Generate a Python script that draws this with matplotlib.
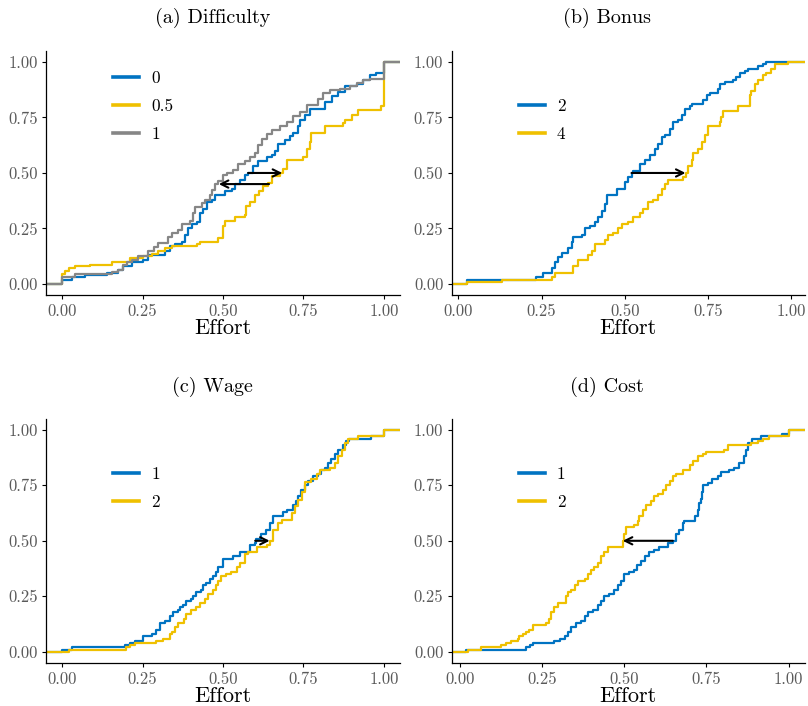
"""Effort ECDFs by treatment arm: four panels, median shifts marked with arrows."""
import matplotlib

matplotlib.use("Agg")
import matplotlib.pyplot as plt

plt.rcParams.update({
    "font.family": "serif",
    "font.serif": ["cmr10", "DejaVu Serif"],
    "mathtext.fontset": "cm",
    "axes.formatter.use_mathtext": True,
    "axes.unicode_minus": False,
})

BLUE = "#0073C2"
YELLOW = "#EFC000"
GREY = "#868686"
TICKS = [0.0, 0.25, 0.5, 0.75, 1.0]

# --- (a) Difficulty: ECDF breakpoints (effort, cumulative share) ---
DIFF0_X = [0.0, 0.03, 0.071, 0.139, 0.175, 0.19, 0.216, 0.252, 0.268, 0.32, 0.335, 0.351, 0.372, 0.382,
           0.392, 0.403, 0.418, 0.429, 0.439, 0.449, 0.465, 0.475, 0.506, 0.527, 0.537, 0.553, 0.568,
           0.579, 0.594, 0.61, 0.636, 0.651, 0.661, 0.672, 0.693, 0.708, 0.718, 0.734, 0.739, 0.755,
           0.77, 0.817, 0.838, 0.858, 0.879, 0.915, 0.936, 0.957, 0.975, 1.0]
DIFF0_Y = [0.02, 0.03, 0.04, 0.05, 0.065, 0.08, 0.10, 0.11, 0.13, 0.15, 0.17, 0.18, 0.19, 0.22,
           0.25, 0.27, 0.28, 0.32, 0.34, 0.37, 0.38, 0.40, 0.42, 0.43, 0.45, 0.47, 0.49,
           0.50, 0.53, 0.555, 0.57, 0.58, 0.60, 0.63, 0.65, 0.665, 0.68, 0.71, 0.74, 0.76,
           0.79, 0.82, 0.845, 0.865, 0.89, 0.90, 0.92, 0.94, 0.95, 1.0]
DIFF05_X = [0.0, 0.009, 0.02, 0.04, 0.087, 0.154, 0.211, 0.252, 0.279, 0.299, 0.32, 0.341, 0.418, 0.429,
            0.485, 0.501, 0.506, 0.537, 0.568, 0.573, 0.584, 0.599, 0.612, 0.625, 0.641, 0.651, 0.677,
            0.687, 0.70, 0.749, 0.76, 0.77, 0.775, 0.817, 0.874, 0.88, 0.90, 0.92, 0.99, 1.0]
DIFF05_Y = [0.045, 0.06, 0.07, 0.08, 0.085, 0.10, 0.115, 0.125, 0.135, 0.15, 0.16, 0.17, 0.18, 0.19,
            0.205, 0.26, 0.285, 0.30, 0.31, 0.35, 0.37, 0.40, 0.42, 0.44, 0.455, 0.485, 0.50,
            0.52, 0.56, 0.57, 0.61, 0.64, 0.68, 0.71, 0.725, 0.74, 0.76, 0.785, 0.80, 1.0]
DIFF1_X = [0.0, 0.04, 0.154, 0.175, 0.19, 0.201, 0.216, 0.237, 0.268, 0.284, 0.299, 0.33, 0.341, 0.361,
           0.372, 0.398, 0.408, 0.413, 0.434, 0.444, 0.46, 0.465, 0.475, 0.485, 0.501, 0.511, 0.532,
           0.548, 0.568, 0.584, 0.599, 0.61, 0.62, 0.636, 0.651, 0.677, 0.698, 0.718, 0.739, 0.76,
           0.796, 0.812, 0.832, 0.863, 0.894, 0.915, 0.936, 0.957, 1.0]
DIFF1_Y = [0.03, 0.045, 0.055, 0.065, 0.085, 0.10, 0.11, 0.125, 0.15, 0.165, 0.185, 0.21, 0.23, 0.245,
           0.27, 0.285, 0.32, 0.345, 0.365, 0.38, 0.40, 0.425, 0.45, 0.465, 0.49, 0.50, 0.515,
           0.54, 0.555, 0.57, 0.59, 0.625, 0.655, 0.675, 0.695, 0.71, 0.73, 0.755, 0.775, 0.805,
           0.835, 0.86, 0.875, 0.88, 0.89, 0.905, 0.92, 0.925, 1.0]

# --- (b) Bonus ---
BONUS2_X = [0.025, 0.233, 0.255, 0.28, 0.29, 0.30, 0.31, 0.33, 0.34, 0.345, 0.37, 0.38, 0.395, 0.41,
            0.42, 0.43, 0.44, 0.445, 0.475, 0.50, 0.51, 0.52, 0.525, 0.545, 0.56, 0.575, 0.59, 0.60,
            0.61, 0.62, 0.635, 0.645, 0.66, 0.67, 0.68, 0.695, 0.70, 0.735, 0.745, 0.755, 0.78,
            0.785, 0.80, 0.825, 0.835, 0.845, 0.86, 0.87, 0.90, 0.915, 0.925]
BONUS2_Y = [0.02, 0.03, 0.05, 0.07, 0.10, 0.12, 0.14, 0.16, 0.19, 0.21, 0.22, 0.25, 0.26, 0.28,
            0.30, 0.33, 0.36, 0.40, 0.43, 0.46, 0.48, 0.50, 0.51, 0.54, 0.56, 0.58, 0.61, 0.63,
            0.66, 0.67, 0.70, 0.73, 0.74, 0.76, 0.79, 0.80, 0.81, 0.83, 0.85, 0.86, 0.88,
            0.90, 0.91, 0.92, 0.93, 0.95, 0.96, 0.97, 0.98, 0.99, 1.00]
BONUS4_X = [0.025, 0.13, 0.28, 0.29, 0.345, 0.36, 0.388, 0.40, 0.41, 0.44, 0.45, 0.465, 0.48, 0.49,
            0.51, 0.525, 0.545, 0.555, 0.57, 0.585, 0.60, 0.61, 0.62, 0.63, 0.675, 0.682, 0.69,
            0.70, 0.705, 0.72, 0.73, 0.74, 0.75, 0.785, 0.79, 0.795, 0.84, 0.875, 0.88, 0.89,
            0.90, 0.915, 0.925, 0.94, 0.95, 0.99]
BONUS4_Y = [0.01, 0.02, 0.03, 0.05, 0.08, 0.11, 0.13, 0.15, 0.18, 0.20, 0.22, 0.23, 0.25, 0.27,
            0.28, 0.30, 0.32, 0.34, 0.37, 0.38, 0.40, 0.43, 0.45, 0.47, 0.48, 0.50, 0.53,
            0.56, 0.59, 0.61, 0.64, 0.67, 0.71, 0.73, 0.75, 0.78, 0.80, 0.85, 0.87, 0.90,
            0.92, 0.94, 0.95, 0.97, 0.99, 1.0]

# --- (c) Wage ---
WAGE1_X = [0.0, 0.03, 0.195, 0.21, 0.226, 0.25, 0.28, 0.293, 0.303, 0.32, 0.334, 0.345, 0.36, 0.365,
           0.375, 0.386, 0.40, 0.406, 0.417, 0.432, 0.438, 0.448, 0.459, 0.469, 0.479, 0.484, 0.50,
           0.531, 0.552, 0.583, 0.598, 0.604, 0.619, 0.635, 0.645, 0.655, 0.686, 0.70, 0.717, 0.727,
           0.733, 0.743, 0.754, 0.764, 0.78, 0.795, 0.805, 0.816, 0.826, 0.836, 0.847, 0.857, 0.873,
           0.883, 0.893, 0.96, 1.0]
WAGE1_Y = [0.01, 0.02, 0.03, 0.04, 0.05, 0.07, 0.08, 0.10, 0.13, 0.14, 0.16, 0.18, 0.19, 0.20,
           0.21, 0.23, 0.24, 0.25, 0.27, 0.28, 0.30, 0.31, 0.33, 0.34, 0.36, 0.38, 0.42,
           0.43, 0.45, 0.48, 0.49, 0.51, 0.53, 0.55, 0.58, 0.61, 0.63, 0.64, 0.66, 0.68,
           0.70, 0.73, 0.75, 0.77, 0.79, 0.80, 0.82, 0.83, 0.85, 0.87, 0.89, 0.91, 0.93,
           0.95, 0.96, 0.97, 1.0]
WAGE2_X = [0.02, 0.20, 0.21, 0.226, 0.293, 0.314, 0.334, 0.34, 0.35, 0.36, 0.38, 0.386, 0.401, 0.417,
           0.428, 0.443, 0.453, 0.469, 0.479, 0.484, 0.495, 0.51, 0.526, 0.542, 0.553, 0.568, 0.579,
           0.605, 0.636, 0.646, 0.656, 0.672, 0.682, 0.713, 0.724, 0.734, 0.744, 0.755, 0.775,
           0.791, 0.80, 0.832, 0.848, 0.858, 0.869, 0.879, 0.889, 0.92, 1.0]
WAGE2_Y = [0.01, 0.02, 0.03, 0.04, 0.05, 0.06, 0.08, 0.09, 0.11, 0.13, 0.15, 0.17, 0.19, 0.20,
           0.22, 0.24, 0.26, 0.28, 0.30, 0.32, 0.34, 0.35, 0.36, 0.38, 0.40, 0.44, 0.45,
           0.47, 0.48, 0.50, 0.55, 0.58, 0.595, 0.625, 0.655, 0.685, 0.72, 0.765, 0.78,
           0.80, 0.82, 0.83, 0.85, 0.88, 0.91, 0.94, 0.96, 0.97, 1.0]

# --- (d) Cost ---
COST1_X = [0.02, 0.202, 0.213, 0.223, 0.288, 0.304, 0.319, 0.329, 0.339, 0.354, 0.37, 0.38, 0.39,
           0.405, 0.42, 0.43, 0.44, 0.455, 0.47, 0.48, 0.491, 0.50, 0.516, 0.53, 0.54, 0.552, 0.562,
           0.577, 0.592, 0.607, 0.633, 0.648, 0.658, 0.668, 0.678, 0.683, 0.714, 0.724, 0.729,
           0.733, 0.737, 0.741, 0.756, 0.766, 0.785, 0.795, 0.82, 0.835, 0.85, 0.865, 0.87, 0.875,
           0.89, 0.916, 0.98, 1.0]
COST1_Y = [0.01, 0.02, 0.03, 0.04, 0.05, 0.06, 0.07, 0.09, 0.11, 0.13, 0.14, 0.16, 0.18,
           0.19, 0.21, 0.23, 0.25, 0.26, 0.28, 0.30, 0.32, 0.35, 0.36, 0.37, 0.39, 0.41, 0.43,
           0.45, 0.46, 0.47, 0.49, 0.50, 0.53, 0.55, 0.58, 0.59, 0.61, 0.64, 0.67,
           0.69, 0.72, 0.75, 0.76, 0.78, 0.79, 0.81, 0.82, 0.83, 0.85, 0.88, 0.91, 0.94,
           0.96, 0.97, 0.98, 1.0]
COST2_X = [0.025, 0.066, 0.127, 0.142, 0.157, 0.177, 0.182, 0.192, 0.202, 0.212, 0.223, 0.263, 0.273,
           0.278, 0.288, 0.299, 0.324, 0.329, 0.339, 0.35, 0.36, 0.38, 0.39, 0.40, 0.41, 0.42, 0.43,
           0.44, 0.45, 0.496, 0.50, 0.506, 0.531, 0.541, 0.546, 0.557, 0.567, 0.582, 0.592, 0.602,
           0.617, 0.628, 0.638, 0.648, 0.658, 0.678, 0.699, 0.709, 0.724, 0.739, 0.749, 0.805,
           0.815, 0.886, 0.906, 0.921, 0.941, 1.0]
COST2_Y = [0.01, 0.02, 0.03, 0.04, 0.05, 0.06, 0.07, 0.08, 0.09, 0.10, 0.12, 0.13, 0.15,
           0.18, 0.20, 0.22, 0.25, 0.27, 0.28, 0.30, 0.32, 0.33, 0.35, 0.37, 0.38, 0.40, 0.43,
           0.45, 0.47, 0.50, 0.53, 0.56, 0.57, 0.59, 0.61, 0.64, 0.66, 0.68, 0.70, 0.71,
           0.73, 0.75, 0.77, 0.79, 0.80, 0.82, 0.84, 0.86, 0.88, 0.89, 0.90, 0.91,
           0.93, 0.94, 0.95, 0.96, 0.97, 1.0]

# median-shift arrows: (quantile, from effort, to effort)
ARROWS_A = [(0.50, 0.578, 0.684), (0.45, 0.643, 0.487)]
ARROWS_B = [(0.50, 0.52, 0.682)]
ARROWS_C = [(0.50, 0.60, 0.645)]
ARROWS_D = [(0.50, 0.648, 0.496)]

# title centres: panel column midpoint (figure fraction)
PANELS = [
    ("(a) Difficulty", [0.057, 0.582, 0.438, 0.346], (0.263, 0.975), (-0.05, 1.05),
     [(DIFF0_X, DIFF0_Y, BLUE, "0"), (DIFF05_X, DIFF05_Y, YELLOW, "0.5"), (DIFF1_X, DIFF1_Y, GREY, "1")],
     ARROWS_A),
    ("(b) Bonus", [0.559, 0.582, 0.437, 0.346], (0.751, 0.975), (-0.02, 1.04),
     [(BONUS2_X, BONUS2_Y, BLUE, "2"), (BONUS4_X, BONUS4_Y, YELLOW, "4")], ARROWS_B),
    ("(c) Wage", [0.057, 0.061, 0.438, 0.346], (0.263, 0.452), (-0.05, 1.05),
     [(WAGE1_X, WAGE1_Y, BLUE, "1"), (WAGE2_X, WAGE2_Y, YELLOW, "2")], ARROWS_C),
    ("(d) Cost", [0.559, 0.061, 0.437, 0.346], (0.751, 0.452), (-0.024, 1.049),
     [(COST1_X, COST1_Y, BLUE, "1"), (COST2_X, COST2_Y, YELLOW, "2")], ARROWS_D),
]


def draw_panel(fig, title, rect, title_xy, xlim, series, arrows):
    ax = fig.add_axes(rect)
    for xs, ys, color, label in series:
        # ECDF runs from the left edge at 0 to the right edge at 1
        x = [xlim[0]] + list(xs) + [xlim[1]]
        y = [0.0] + list(ys) + [1.0]
        ax.plot(x, y, drawstyle="steps-post", color=color, lw=1.6, label=label)
    for q, x0, x1 in arrows:
        ax.annotate("", xy=(x1, q), xytext=(x0, q),
                    arrowprops=dict(arrowstyle="->", lw=1.5, color="black",
                                    mutation_scale=13, shrinkA=0, shrinkB=0))
    ax.set_xlim(*xlim)
    ax.set_ylim(-0.05, 1.05)
    ax.set_xticks(TICKS)
    ax.set_yticks(TICKS)
    ax.set_xticklabels([f"{t:.2f}" for t in TICKS])
    ax.set_yticklabels([f"{t:.2f}" for t in TICKS])
    ax.tick_params(labelsize=12, labelcolor="#5a5a5a", length=3, width=0.8, pad=3)
    for side in ("top", "right"):
        ax.spines[side].set_visible(False)
    for side in ("left", "bottom"):
        ax.spines[side].set_linewidth(0.9)
    ax.set_xlabel("Effort", fontsize=16, labelpad=0)
    fig.text(title_xy[0], title_xy[1], title, fontsize=14.5, ha="center", va="center")
    leg = ax.legend(loc="lower left", bbox_to_anchor=(0.19, 0.625), frameon=False,
                    fontsize=12.5, handlelength=1.5, handletextpad=0.7, labelspacing=0.75,
                    borderpad=0, borderaxespad=0)
    for h in leg.legend_handles:
        h.set_linewidth(2.6)
    return ax


fig = plt.figure(figsize=(8.08, 7.06), dpi=100)
for title, rect, title_xy, xlim, series, arrows in PANELS:
    draw_panel(fig, title, rect, title_xy, xlim, series, arrows)

fig.savefig("out.png", dpi=100)
